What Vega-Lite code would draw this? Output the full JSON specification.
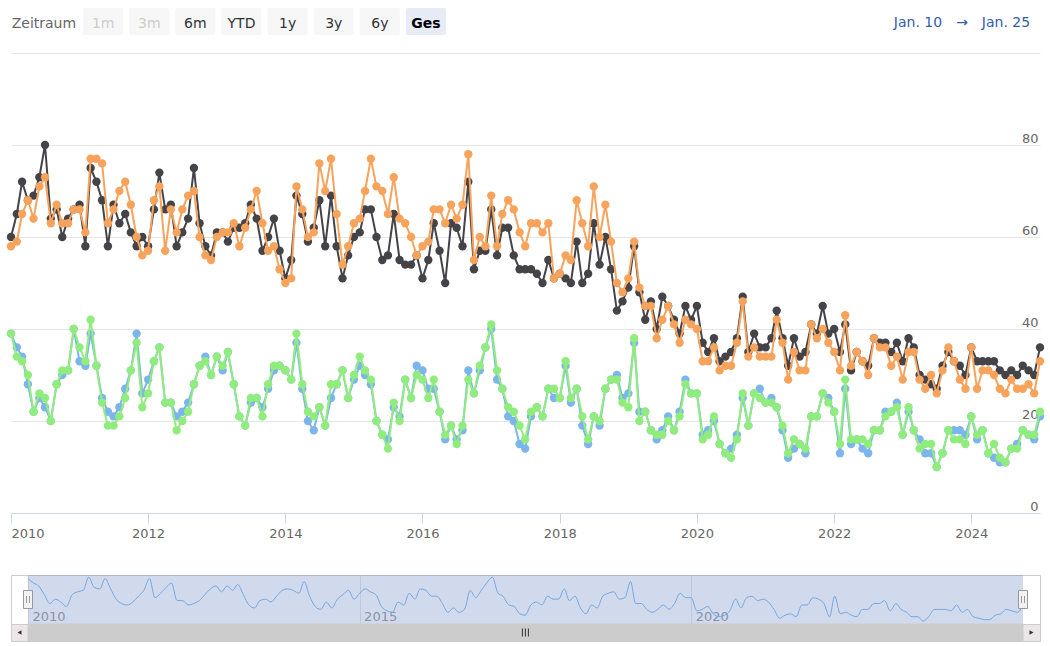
{
  "$schema": "https://vega.github.io/schema/vega-lite/v6.json",
  "padding": {"left": 6, "right": 5, "top": 8, "bottom": 5},
  "autosize": {"type": "pad"},
  "background": "white",
  "config": {"font": "DejaVu Sans", "view": {"stroke": null}},
  "datasets": {
    "werte": [
      {"monat":"2010-01","s1":39,"s2":60,"s3":39,"s4":58},{"monat":"2010-02","s1":36,"s2":65,"s3":34,"s4":59},{"monat":"2010-03","s1":34,"s2":72,"s3":33,"s4":65},{"monat":"2010-04","s1":28,"s2":68,"s3":30,"s4":68},{"monat":"2010-05","s1":22,"s2":69,"s3":22,"s4":64},{"monat":"2010-06","s1":25,"s2":73,"s3":26,"s4":71},{"monat":"2010-07","s1":23,"s2":80,"s3":25,"s4":73},{"monat":"2010-08","s1":20,"s2":64,"s3":20,"s4":63},{"monat":"2010-09","s1":28,"s2":66,"s3":28,"s4":67},{"monat":"2010-10","s1":30,"s2":60,"s3":31,"s4":63},{"monat":"2010-11","s1":31,"s2":64,"s3":31,"s4":63},{"monat":"2010-12","s1":40,"s2":66,"s3":40,"s4":66},
      {"monat":"2011-01","s1":33,"s2":67,"s3":36,"s4":66},{"monat":"2011-02","s1":32,"s2":58,"s3":33,"s4":61},{"monat":"2011-03","s1":39,"s2":75,"s3":42,"s4":77},{"monat":"2011-04","s1":32,"s2":72,"s3":32,"s4":77},{"monat":"2011-05","s1":25,"s2":68,"s3":24,"s4":76},{"monat":"2011-06","s1":22,"s2":58,"s3":19,"s4":63},{"monat":"2011-07","s1":21,"s2":67,"s3":19,"s4":66},{"monat":"2011-08","s1":23,"s2":63,"s3":21,"s4":70},{"monat":"2011-09","s1":27,"s2":65,"s3":25,"s4":72},{"monat":"2011-10","s1":31,"s2":61,"s3":31,"s4":67},{"monat":"2011-11","s1":39,"s2":58,"s3":37,"s4":60},{"monat":"2011-12","s1":26,"s2":60,"s3":23,"s4":56},
      {"monat":"2012-01","s1":29,"s2":58,"s3":26,"s4":57},{"monat":"2012-02","s1":33,"s2":66,"s3":33,"s4":68},{"monat":"2012-03","s1":36,"s2":74,"s3":36,"s4":71},{"monat":"2012-04","s1":24,"s2":66,"s3":24,"s4":57},{"monat":"2012-05","s1":24,"s2":67,"s3":24,"s4":66},{"monat":"2012-06","s1":21,"s2":58,"s3":18,"s4":61},{"monat":"2012-07","s1":22,"s2":61,"s3":20,"s4":66},{"monat":"2012-08","s1":24,"s2":64,"s3":22,"s4":69},{"monat":"2012-09","s1":28,"s2":75,"s3":28,"s4":70},{"monat":"2012-10","s1":32,"s2":63,"s3":32,"s4":60},{"monat":"2012-11","s1":34,"s2":58,"s3":33,"s4":56},{"monat":"2012-12","s1":30,"s2":56,"s3":30,"s4":55},
      {"monat":"2013-01","s1":34,"s2":61,"s3":34,"s4":60},{"monat":"2013-02","s1":31,"s2":61,"s3":32,"s4":61},{"monat":"2013-03","s1":35,"s2":59,"s3":35,"s4":61},{"monat":"2013-04","s1":28,"s2":62,"s3":28,"s4":63},{"monat":"2013-05","s1":21,"s2":62,"s3":21,"s4":58},{"monat":"2013-06","s1":19,"s2":63,"s3":19,"s4":62},{"monat":"2013-07","s1":24,"s2":67,"s3":25,"s4":66},{"monat":"2013-08","s1":25,"s2":64,"s3":25,"s4":70},{"monat":"2013-09","s1":23,"s2":57,"s3":21,"s4":63},{"monat":"2013-10","s1":27,"s2":60,"s3":28,"s4":57},{"monat":"2013-11","s1":31,"s2":64,"s3":32,"s4":58},{"monat":"2013-12","s1":32,"s2":57,"s3":32,"s4":53},
      {"monat":"2014-01","s1":31,"s2":51,"s3":31,"s4":50},{"monat":"2014-02","s1":29,"s2":55,"s3":29,"s4":51},{"monat":"2014-03","s1":37,"s2":69,"s3":39,"s4":71},{"monat":"2014-04","s1":27,"s2":65,"s3":28,"s4":66},{"monat":"2014-05","s1":20,"s2":59,"s3":22,"s4":60},{"monat":"2014-06","s1":18,"s2":62,"s3":21,"s4":61},{"monat":"2014-07","s1":23,"s2":68,"s3":23,"s4":76},{"monat":"2014-08","s1":19,"s2":58,"s3":19,"s4":70},{"monat":"2014-09","s1":25,"s2":69,"s3":28,"s4":77},{"monat":"2014-10","s1":28,"s2":58,"s3":28,"s4":65},{"monat":"2014-11","s1":31,"s2":51,"s3":31,"s4":54},{"monat":"2014-12","s1":25,"s2":56,"s3":25,"s4":58},
      {"monat":"2015-01","s1":29,"s2":60,"s3":30,"s4":63},{"monat":"2015-02","s1":32,"s2":61,"s3":34,"s4":64},{"monat":"2015-03","s1":30,"s2":66,"s3":31,"s4":70},{"monat":"2015-04","s1":28,"s2":66,"s3":29,"s4":77},{"monat":"2015-05","s1":20,"s2":60,"s3":20,"s4":71},{"monat":"2015-06","s1":17,"s2":55,"s3":17,"s4":70},{"monat":"2015-07","s1":16,"s2":56,"s3":14,"s4":65},{"monat":"2015-08","s1":23,"s2":65,"s3":24,"s4":73},{"monat":"2015-09","s1":21,"s2":55,"s3":20,"s4":64},{"monat":"2015-10","s1":29,"s2":54,"s3":29,"s4":63},{"monat":"2015-11","s1":25,"s2":54,"s3":25,"s4":60},{"monat":"2015-12","s1":32,"s2":56,"s3":30,"s4":56},
      {"monat":"2016-01","s1":31,"s2":51,"s3":29,"s4":58},{"monat":"2016-02","s1":27,"s2":55,"s3":25,"s4":59},{"monat":"2016-03","s1":27,"s2":63,"s3":29,"s4":66},{"monat":"2016-04","s1":22,"s2":57,"s3":22,"s4":66},{"monat":"2016-05","s1":16,"s2":50,"s3":17,"s4":63},{"monat":"2016-06","s1":19,"s2":63,"s3":19,"s4":67},{"monat":"2016-07","s1":16,"s2":62,"s3":15,"s4":64},{"monat":"2016-08","s1":18,"s2":58,"s3":19,"s4":67},{"monat":"2016-09","s1":31,"s2":72,"s3":29,"s4":78},{"monat":"2016-10","s1":26,"s2":53,"s3":26,"s4":55},{"monat":"2016-11","s1":31,"s2":57,"s3":32,"s4":60},{"monat":"2016-12","s1":36,"s2":57,"s3":36,"s4":58},
      {"monat":"2017-01","s1":40,"s2":66,"s3":41,"s4":69},{"monat":"2017-02","s1":29,"s2":56,"s3":31,"s4":58},{"monat":"2017-03","s1":27,"s2":62,"s3":27,"s4":65},{"monat":"2017-04","s1":21,"s2":62,"s3":23,"s4":68},{"monat":"2017-05","s1":20,"s2":56,"s3":22,"s4":66},{"monat":"2017-06","s1":15,"s2":53,"s3":19,"s4":61},{"monat":"2017-07","s1":14,"s2":53,"s3":16,"s4":58},{"monat":"2017-08","s1":21,"s2":53,"s3":22,"s4":63},{"monat":"2017-09","s1":23,"s2":52,"s3":23,"s4":63},{"monat":"2017-10","s1":21,"s2":50,"s3":21,"s4":61},{"monat":"2017-11","s1":27,"s2":55,"s3":27,"s4":63},{"monat":"2017-12","s1":25,"s2":51,"s3":27,"s4":51},
      {"monat":"2018-01","s1":25,"s2":52,"s3":25,"s4":52},{"monat":"2018-02","s1":32,"s2":51,"s3":33,"s4":56},{"monat":"2018-03","s1":24,"s2":50,"s3":25,"s4":55},{"monat":"2018-04","s1":27,"s2":59,"s3":27,"s4":68},{"monat":"2018-05","s1":19,"s2":50,"s3":21,"s4":63},{"monat":"2018-06","s1":15,"s2":52,"s3":16,"s4":58},{"monat":"2018-07","s1":21,"s2":63,"s3":21,"s4":71},{"monat":"2018-08","s1":19,"s2":54,"s3":20,"s4":60},{"monat":"2018-09","s1":27,"s2":60,"s3":27,"s4":67},{"monat":"2018-10","s1":29,"s2":53,"s3":29,"s4":59},{"monat":"2018-11","s1":30,"s2":44,"s3":29,"s4":50},{"monat":"2018-12","s1":25,"s2":46,"s3":24,"s4":48},
      {"monat":"2019-01","s1":26,"s2":49,"s3":23,"s4":51},{"monat":"2019-02","s1":37,"s2":58,"s3":38,"s4":59},{"monat":"2019-03","s1":22,"s2":48,"s3":20,"s4":49},{"monat":"2019-04","s1":22,"s2":42,"s3":22,"s4":45},{"monat":"2019-05","s1":18,"s2":46,"s3":18,"s4":45},{"monat":"2019-06","s1":16,"s2":40,"s3":17,"s4":38},{"monat":"2019-07","s1":18,"s2":47,"s3":17,"s4":42},{"monat":"2019-08","s1":21,"s2":45,"s3":20,"s4":45},{"monat":"2019-09","s1":18,"s2":42,"s3":18,"s4":41},{"monat":"2019-10","s1":22,"s2":39,"s3":21,"s4":37},{"monat":"2019-11","s1":29,"s2":45,"s3":28,"s4":42},{"monat":"2019-12","s1":26,"s2":42,"s3":26,"s4":41},
      {"monat":"2020-01","s1":26,"s2":45,"s3":26,"s4":40},{"monat":"2020-02","s1":17,"s2":37,"s3":16,"s4":33},{"monat":"2020-03","s1":18,"s2":35,"s3":17,"s4":33},{"monat":"2020-04","s1":20,"s2":38,"s3":21,"s4":36},{"monat":"2020-05","s1":15,"s2":33,"s3":15,"s4":31},{"monat":"2020-06","s1":13,"s2":34,"s3":13,"s4":32},{"monat":"2020-07","s1":14,"s2":35,"s3":12,"s4":32},{"monat":"2020-08","s1":17,"s2":38,"s3":16,"s4":37},{"monat":"2020-09","s1":25,"s2":47,"s3":26,"s4":46},{"monat":"2020-10","s1":19,"s2":35,"s3":19,"s4":34},{"monat":"2020-11","s1":26,"s2":39,"s3":26,"s4":36},{"monat":"2020-12","s1":27,"s2":36,"s3":25,"s4":34},
      {"monat":"2021-01","s1":24,"s2":36,"s3":24,"s4":34},{"monat":"2021-02","s1":25,"s2":38,"s3":24,"s4":34},{"monat":"2021-03","s1":23,"s2":44,"s3":23,"s4":42},{"monat":"2021-04","s1":18,"s2":38,"s3":19,"s4":37},{"monat":"2021-05","s1":12,"s2":32,"s3":13,"s4":29},{"monat":"2021-06","s1":14,"s2":38,"s3":16,"s4":35},{"monat":"2021-07","s1":15,"s2":34,"s3":15,"s4":31},{"monat":"2021-08","s1":13,"s2":35,"s3":14,"s4":31},{"monat":"2021-09","s1":21,"s2":41,"s3":21,"s4":41},{"monat":"2021-10","s1":21,"s2":39,"s3":21,"s4":38},{"monat":"2021-11","s1":26,"s2":45,"s3":26,"s4":40},{"monat":"2021-12","s1":25,"s2":39,"s3":24,"s4":37},
      {"monat":"2022-01","s1":22,"s2":40,"s3":22,"s4":35},{"monat":"2022-02","s1":13,"s2":35,"s3":15,"s4":31},{"monat":"2022-03","s1":27,"s2":41,"s3":29,"s4":43},{"monat":"2022-04","s1":15,"s2":31,"s3":16,"s4":32},{"monat":"2022-05","s1":16,"s2":35,"s3":16,"s4":35},{"monat":"2022-06","s1":14,"s2":33,"s3":16,"s4":33},{"monat":"2022-07","s1":13,"s2":32,"s3":15,"s4":30},{"monat":"2022-08","s1":18,"s2":38,"s3":18,"s4":38},{"monat":"2022-09","s1":18,"s2":37,"s3":18,"s4":36},{"monat":"2022-10","s1":22,"s2":37,"s3":21,"s4":36},{"monat":"2022-11","s1":22,"s2":35,"s3":22,"s4":32},{"monat":"2022-12","s1":24,"s2":37,"s3":23,"s4":34},
      {"monat":"2023-01","s1":17,"s2":33,"s3":17,"s4":29},{"monat":"2023-02","s1":22,"s2":38,"s3":23,"s4":35},{"monat":"2023-03","s1":18,"s2":36,"s3":18,"s4":35},{"monat":"2023-04","s1":16,"s2":30,"s3":14,"s4":29},{"monat":"2023-05","s1":13,"s2":29,"s3":15,"s4":27},{"monat":"2023-06","s1":13,"s2":28,"s3":15,"s4":30},{"monat":"2023-07","s1":10,"s2":27,"s3":10,"s4":26},{"monat":"2023-08","s1":13,"s2":32,"s3":13,"s4":31},{"monat":"2023-09","s1":18,"s2":35,"s3":18,"s4":36},{"monat":"2023-10","s1":18,"s2":33,"s3":16,"s4":33},{"monat":"2023-11","s1":18,"s2":32,"s3":16,"s4":29},{"monat":"2023-12","s1":17,"s2":30,"s3":15,"s4":27},
      {"monat":"2024-01","s1":21,"s2":36,"s3":21,"s4":36},{"monat":"2024-02","s1":16,"s2":33,"s3":17,"s4":27},{"monat":"2024-03","s1":18,"s2":33,"s3":18,"s4":31},{"monat":"2024-04","s1":13,"s2":33,"s3":13,"s4":31},{"monat":"2024-05","s1":12,"s2":33,"s3":15,"s4":30},{"monat":"2024-06","s1":11,"s2":31,"s3":12,"s4":27},{"monat":"2024-07","s1":11,"s2":30,"s3":11,"s4":26},{"monat":"2024-08","s1":14,"s2":31,"s3":14,"s4":29},{"monat":"2024-09","s1":15,"s2":30,"s3":14,"s4":27},{"monat":"2024-10","s1":18,"s2":32,"s3":18,"s4":27},{"monat":"2024-11","s1":17,"s2":31,"s3":17,"s4":28},{"monat":"2024-12","s1":16,"s2":30,"s3":17,"s4":26},
      {"monat":"2025-01","s1":21,"s2":36,"s3":22,"s4":33}
    ],
    "leiste": [
      {"label":"Zeitraum","art":"titel"},{"label":"1m","art":"aus"},{"label":"3m","art":"aus"},{"label":"6m","art":"an"},{"label":"YTD","art":"an"},{"label":"1y","art":"an"},{"label":"3y","art":"an"},{"label":"6y","art":"an"},{"label":"Ges","art":"aktiv"}
    ],
    "bereich": [{"teil":"Jan. 10"},{"teil":"→"},{"teil":"Jan. 25"}],
    "auswahl": [{"monat":"2010-01","bis":"2025-01"}],
    "griffe": [{"monat":"2010-01"},{"monat":"2025-01"}],
    "mitte": [{"monat":"2017-07-02"}]
  },
  "spacing": 0,
  "bounds": "flush",
  "vconcat": [
    {
      "width": 1029,
      "height": 27,
      "layer": [
        {
          "data": {"name": "leiste"},
          "encoding": {
            "x": {"field": "label", "type": "nominal", "sort": null, "axis": null,
              "scale": {"type": "band", "domain": ["Zeitraum","1m","3m","6m","YTD","1y","3y","6y","Ges"], "range": [26, 435], "paddingInner": 0.13, "paddingOuter": 0}}
          },
          "layer": [
            {
              "transform": [{"filter": "datum.art !== 'titel'"}],
              "mark": {"type": "rect", "cornerRadius": 2},
              "encoding": {
                "fill": {"field": "art", "type": "nominal", "legend": null,
                  "scale": {"domain": ["aus","an","aktiv"], "range": ["#f7f7f7","#f7f7f7","#e6ebf5"]}}
              }
            },
            {
              "transform": [{"filter": "datum.art === 'aus' || datum.art === 'an'"}],
              "mark": {"type": "text", "fontSize": 14, "dy": 2},
              "encoding": {
                "text": {"field": "label"},
                "color": {"field": "art", "type": "nominal", "legend": null,
                  "scale": {"domain": ["aus","an"], "range": ["#cccccc","#333333"]}}
              }
            },
            {
              "transform": [{"filter": "datum.art === 'aktiv'"}],
              "mark": {"type": "text", "fontSize": 14, "fontWeight": "bold", "color": "#000000", "dy": 2},
              "encoding": {"text": {"field": "label"}}
            },
            {
              "transform": [{"filter": "datum.art === 'titel'"}],
              "mark": {"type": "text", "fontSize": 14, "color": "#666666", "align": "right", "dx": -1, "dy": 2},
              "encoding": {
                "x": {"field": "label", "type": "nominal", "sort": null, "axis": null, "bandPosition": 1},
                "text": {"field": "label"}
              }
            }
          ]
        },
        {
          "data": {"name": "bereich"},
          "mark": {"type": "text", "fontSize": 14, "color": "#335cad", "dy": 1},
          "encoding": {
            "x": {"field": "teil", "type": "nominal", "sort": null, "axis": null,
              "scale": {"type": "point", "domain": ["Jan. 10","→","Jan. 25"], "range": [907, 995], "padding": 0}},
            "text": {"field": "teil"}
          }
        }
      ],
      "resolve": {"scale": {"x": "independent"}}
    },
    {
      "width": 1029,
      "height": 540,
      "data": {"name": "werte"},
      "transform": [{"fold": ["s1","s2","s3","s4"], "as": ["reihe","wert"]}],
      "encoding": {
        "x": {"field": "monat", "type": "temporal",
          "scale": {"type": "utc", "domain": [{"year":2010,"month":1,"date":1,"utc":true},{"year":2025,"month":1,"date":1,"utc":true}]},
          "axis": {"title": null, "format": "%Y", "grid": false, "offset": -62,
            "values": [{"year":2010,"month":1,"date":1,"utc":true},{"year":2012,"month":1,"date":1,"utc":true},{"year":2014,"month":1,"date":1,"utc":true},{"year":2016,"month":1,"date":1,"utc":true},{"year":2018,"month":1,"date":1,"utc":true},{"year":2020,"month":1,"date":1,"utc":true},{"year":2022,"month":1,"date":1,"utc":true},{"year":2024,"month":1,"date":1,"utc":true}],
            "domainColor": "#ccd6eb", "tickColor": "#ccd6eb", "tickSize": 10,
            "labelColor": "#666666", "labelFontSize": 13, "labelPadding": 14, "labelBaseline": "alphabetic",
            "labelFlush": true, "labelFlushOffset": 0, "labelOverlap": false}},
        "y": {"field": "wert", "type": "quantitative",
          "scale": {"domain": [0, 100], "nice": false, "range": [478, 18]},
          "axis": {"title": null, "orient": "right", "values": [0,20,40,60,80,100], "domain": false, "ticks": false, "tickSize": 0,
            "grid": true, "gridColor": "#e6e6e6", "labelAlign": "right", "labelBaseline": "alphabetic",
            "labelPadding": -2, "labelOffset": -3, "labelColor": "#666666", "labelFontSize": 13,
            "labelExpr": "datum.value === 100 ? '' : datum.label"}}
      },
      "layer": [
        {"transform": [{"filter": "datum.reihe === 's1'"}], "mark": {"type": "line", "color": "#7cb5ec", "strokeWidth": 2}},
        {"transform": [{"filter": "datum.reihe === 's1'"}], "mark": {"type": "point", "filled": true, "color": "#7cb5ec", "size": 70, "opacity": 1, "strokeWidth": 0}},
        {"transform": [{"filter": "datum.reihe === 's2'"}], "mark": {"type": "line", "color": "#434348", "strokeWidth": 2}},
        {"transform": [{"filter": "datum.reihe === 's2'"}], "mark": {"type": "point", "filled": true, "color": "#434348", "size": 70, "opacity": 1, "strokeWidth": 0}},
        {"transform": [{"filter": "datum.reihe === 's3'"}], "mark": {"type": "line", "color": "#90ed7d", "strokeWidth": 2}},
        {"transform": [{"filter": "datum.reihe === 's3'"}], "mark": {"type": "point", "filled": true, "color": "#90ed7d", "size": 70, "opacity": 1, "strokeWidth": 0}},
        {"transform": [{"filter": "datum.reihe === 's4'"}], "mark": {"type": "line", "color": "#f7a35c", "strokeWidth": 2}},
        {"transform": [{"filter": "datum.reihe === 's4'"}], "mark": {"type": "point", "filled": true, "color": "#f7a35c", "size": 70, "opacity": 1, "strokeWidth": 0}}
      ]
    },
    {
      "width": 1029,
      "height": 49,
      "view": {"stroke": "#cccccc"},
      "encoding": {
        "x": {"field": "monat", "type": "temporal",
          "scale": {"type": "utc", "domain": [{"year":2010,"month":1,"date":1,"utc":true},{"year":2025,"month":1,"date":1,"utc":true}], "range": [17, 1012]},
          "axis": {"title": null, "format": "%Y", "grid": true, "gridColor": "#e6e6e6",
            "values": [{"year":2010,"month":1,"date":1,"utc":true},{"year":2015,"month":1,"date":1,"utc":true},{"year":2020,"month":1,"date":1,"utc":true}],
            "domain": false, "ticks": false, "tickSize": 0, "labelAlign": "left", "labelBaseline": "alphabetic",
            "labelPadding": -4, "labelOffset": 4, "labelColor": "#999999", "labelFontSize": 13, "labelOverlap": false}}
      },
      "layer": [
        {
          "data": {"name": "werte"},
          "mark": {"type": "line", "interpolate": "monotone", "color": "#7cb5ec", "strokeWidth": 1},
          "encoding": {"y": {"field": "s1", "type": "quantitative", "scale": {"domain": [8, 41.5], "nice": false, "zero": false}, "axis": null}}
        },
        {
          "data": {"name": "auswahl"},
          "mark": {"type": "rect", "color": "#6685c2", "opacity": 0.3},
          "encoding": {"x2": {"field": "bis"}}
        },
        {
          "data": {"name": "griffe"},
          "mark": {"type": "tick", "thickness": 9, "size": 18, "color": "#f2f2f2", "stroke": "#999999", "strokeWidth": 1, "opacity": 1}
        },
        {
          "data": {"name": "griffe"},
          "mark": {"type": "tick", "thickness": 1, "size": 7, "color": "#999999", "opacity": 1, "xOffset": -1.5}
        },
        {
          "data": {"name": "griffe"},
          "mark": {"type": "tick", "thickness": 1, "size": 7, "color": "#999999", "opacity": 1, "xOffset": 1.5}
        }
      ]
    },
    {
      "width": 1029,
      "height": 17,
      "view": {"fill": "#ebe7e8", "stroke": "#cccccc"},
      "encoding": {
        "x": {"field": "monat", "type": "temporal", "axis": null,
          "scale": {"type": "utc", "domain": [{"year":2010,"month":1,"date":1,"utc":true},{"year":2025,"month":1,"date":1,"utc":true}], "range": [17, 1012]}}
      },
      "layer": [
        {
          "data": {"name": "auswahl"},
          "mark": {"type": "rect", "color": "#cccccc", "stroke": "#cccccc"},
          "encoding": {"x2": {"field": "bis"}}
        },
        {
          "data": {"name": "auswahl"},
          "mark": {"type": "point", "shape": "triangle-left", "filled": true, "color": "#333333", "size": 22, "opacity": 1, "xOffset": -8.5}
        },
        {
          "data": {"name": "auswahl"},
          "mark": {"type": "point", "shape": "triangle-right", "filled": true, "color": "#333333", "size": 22, "opacity": 1, "xOffset": 8.5},
          "encoding": {"x": {"field": "bis", "type": "temporal", "axis": null}}
        },
        {"data": {"name": "mitte"}, "mark": {"type": "tick", "thickness": 1, "size": 8, "color": "#333333", "opacity": 1, "xOffset": -3}},
        {"data": {"name": "mitte"}, "mark": {"type": "tick", "thickness": 1, "size": 8, "color": "#333333", "opacity": 1}},
        {"data": {"name": "mitte"}, "mark": {"type": "tick", "thickness": 1, "size": 8, "color": "#333333", "opacity": 1, "xOffset": 3}}
      ]
    }
  ]
}
